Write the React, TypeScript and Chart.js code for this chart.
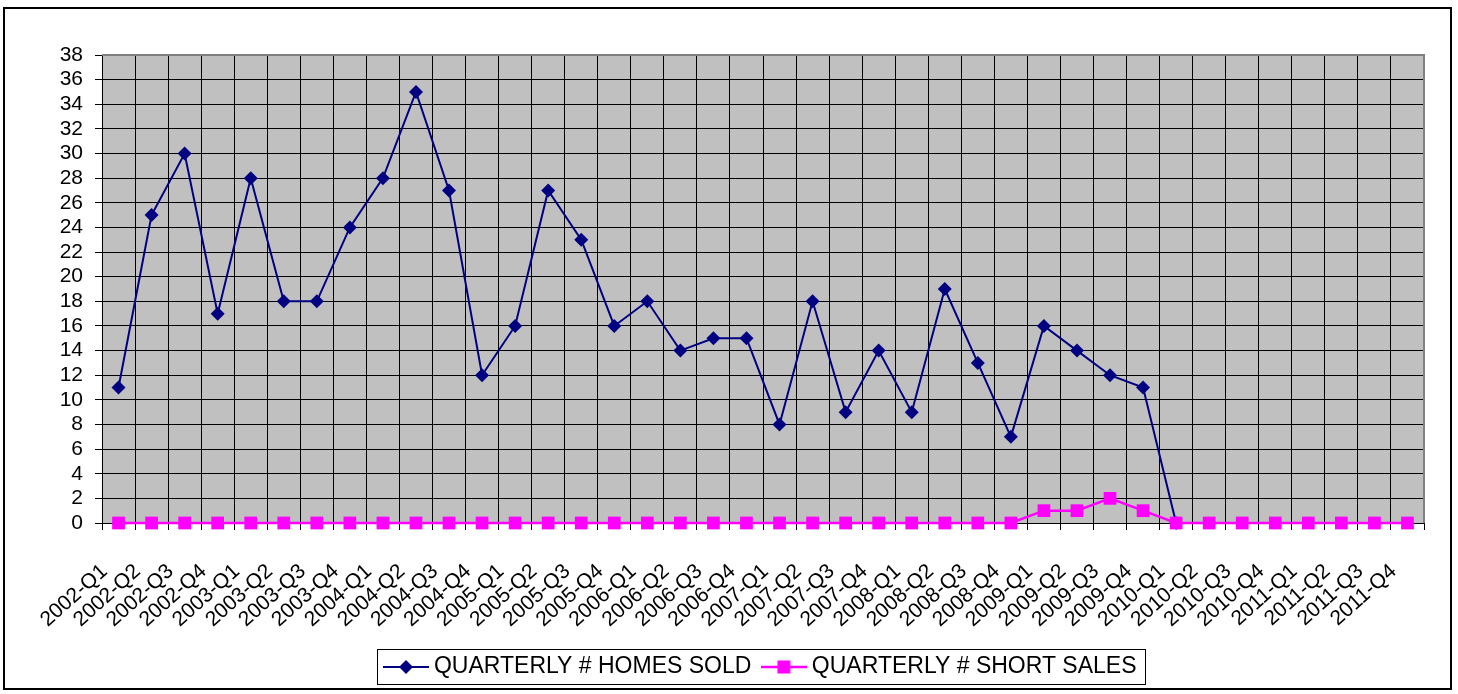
import React, { useEffect, useRef } from "react";
import { Chart, registerables } from "chart.js";

Chart.register(...registerables);

const quarters = [
  "2002-Q1", "2002-Q2", "2002-Q3", "2002-Q4",
  "2003-Q1", "2003-Q2", "2003-Q3", "2003-Q4",
  "2004-Q1", "2004-Q2", "2004-Q3", "2004-Q4",
  "2005-Q1", "2005-Q2", "2005-Q3", "2005-Q4",
  "2006-Q1", "2006-Q2", "2006-Q3", "2006-Q4",
  "2007-Q1", "2007-Q2", "2007-Q3", "2007-Q4",
  "2008-Q1", "2008-Q2", "2008-Q3", "2008-Q4",
  "2009-Q1", "2009-Q2", "2009-Q3", "2009-Q4",
  "2010-Q1", "2010-Q2", "2010-Q3", "2010-Q4",
  "2011-Q1", "2011-Q2", "2011-Q3", "2011-Q4",
];

const homesSold: (number | null)[] = [
  11, 25, 30, 17,
  28, 18, 18, 24,
  28, 35, 27, 12,
  16, 27, 23, 16,
  18, 14, 15, 15,
  8, 18, 9, 14,
  9, 19, 13, 7,
  16, 14, 12, 11,
  0, null, null, null,
  null, null, null, null,
];

const shortSales: number[] = [
  0, 0, 0, 0,
  0, 0, 0, 0,
  0, 0, 0, 0,
  0, 0, 0, 0,
  0, 0, 0, 0,
  0, 0, 0, 0,
  0, 0, 0, 0,
  1, 1, 2, 1,
  0, 0, 0, 0,
  0, 0, 0, 0,
];

const yMin = 0;
const yMax = 38;
const yStep = 2;

const NAVY = "#000080";
const MAGENTA = "#FF00FF";
const FONT = "'Liberation Sans', Arial, sans-serif";

function makeSymbol(color: string, kind: "diamond" | "square"): HTMLCanvasElement {
  const c = document.createElement("canvas");
  c.width = 46;
  c.height = 16;
  const g = c.getContext("2d")!;
  g.strokeStyle = color;
  g.lineWidth = kind === "diamond" ? 2 : 2.5;
  g.beginPath();
  g.moveTo(0, 8);
  g.lineTo(46, 8);
  g.stroke();
  g.fillStyle = color;
  if (kind === "diamond") {
    g.beginPath();
    g.moveTo(16, 8);
    g.lineTo(23, 1);
    g.lineTo(30, 8);
    g.lineTo(23, 15);
    g.closePath();
    g.fill();
  } else {
    g.fillRect(16.5, 1.5, 13, 13);
  }
  return c;
}

const framePlugin = {
  id: "frame",
  beforeDraw(chart: any) {
    const { ctx, chartArea, width, height } = chart;
    ctx.save();
    ctx.fillStyle = "#FFFFFF";
    ctx.fillRect(0, 0, width, height);
    ctx.fillStyle = "#C0C0C0";
    ctx.fillRect(chartArea.left, chartArea.top, chartArea.right - chartArea.left, chartArea.bottom - chartArea.top);
    ctx.restore();
  },
  beforeDatasetsDraw(chart: any) {
    const { ctx, chartArea } = chart;
    ctx.save();
    ctx.strokeStyle = "#808080";
    ctx.lineWidth = 2;
    ctx.beginPath();
    ctx.moveTo(chartArea.left, chartArea.top);
    ctx.lineTo(chartArea.right, chartArea.top);
    ctx.lineTo(chartArea.right, chartArea.bottom);
    ctx.stroke();
    ctx.restore();
  },
  afterDraw(chart: any) {
    const { ctx } = chart;
    ctx.save();
    ctx.strokeStyle = "#000000";
    ctx.lineWidth = 2;
    ctx.strokeRect(4, 8, 1447, 681);
    const boxes = chart.legend?.legendHitBoxes || [];
    if (boxes.length) {
      let l = Infinity, r = -Infinity, t = Infinity, b = -Infinity;
      for (const hb of boxes) {
        l = Math.min(l, hb.left);
        r = Math.max(r, hb.left + hb.width);
        t = Math.min(t, hb.top);
        b = Math.max(b, hb.top + hb.height);
      }
      ctx.strokeStyle = "#000000";
      ctx.lineWidth = 1;
      const x0 = Math.round(l - 12.5) + 0.5;
      const y0 = Math.round(t - 6.5) + 0.5;
      const x1 = Math.round(r + 8) + 0.5;
      const y1 = Math.round(b + 5.5) + 0.5;
      ctx.strokeRect(x0, y0, x1 - x0, y1 - y0);
    }
    ctx.restore();
  },
};

export default function App() {
  const ref = useRef<HTMLCanvasElement | null>(null);

  useEffect(() => {
    if (!ref.current) return;
    const diamond = makeSymbol(NAVY, "diamond");
    const square = makeSymbol(MAGENTA, "square");
    const chart = new Chart(ref.current, {
      type: "line",
      data: {
        labels: quarters,
        datasets: [
          {
            label: "QUARTERLY # HOMES SOLD",
            data: homesSold,
            borderColor: NAVY,
            backgroundColor: NAVY,
            borderWidth: 2,
            pointStyle: "rectRot",
            pointRadius: 7,
            pointBorderWidth: 0,
            pointBackgroundColor: NAVY,
            tension: 0,
            clip: false as any,
            order: 1,
            spanGaps: false,
          },
          {
            label: "QUARTERLY # SHORT SALES",
            data: shortSales,
            borderColor: MAGENTA,
            backgroundColor: MAGENTA,
            borderWidth: 2.5,
            pointStyle: "rect",
            pointRadius: 9,
            pointBorderWidth: 0,
            pointBackgroundColor: MAGENTA,
            tension: 0,
            clip: false as any,
            order: 0,
          },
        ],
      },
      options: {
        animation: false,
        responsive: false,
        maintainAspectRatio: false,
        layout: { padding: { left: 0, top: 55, right: 34, bottom: 5.5 } },
        plugins: {
          tooltip: { enabled: false },
          legend: {
            display: true,
            position: "bottom",
            fullSize: false,
            labels: {
              color: "#000000",
              font: { family: FONT, size: 23 },
              usePointStyle: true,
              pointStyleWidth: 33,
              padding: 16,
              sort: (a: any, b: any) => a.datasetIndex - b.datasetIndex,
              generateLabels: (chart: any) => {
                const items = Chart.defaults.plugins.legend.labels.generateLabels(chart);
                return items.map((it: any) => ({
                  ...it,
                  pointStyle: it.datasetIndex === 0 ? diamond : square,
                  lineWidth: 0,
                }));
              },
            },
          },
        },
        scales: {
          x: {
            type: "category",
            offset: true,
            grid: {
              offset: true,
              color: "#000000",
              lineWidth: 1,
              drawTicks: true,
              tickLength: 7,
              tickColor: "#000000",
            },
            border: { display: true, color: "#000000", width: 1 },
            ticks: {
              autoSkip: false,
              maxRotation: 42,
              minRotation: 42,
              color: "#000000",
              font: { family: FONT, size: 21 },
              padding: 29,
              labelOffset: -14,
            },
            afterFit: (scale: any) => {
              scale.height = 116.5;
            },
          },
          y: {
            min: yMin,
            max: yMax,
            grid: {
              color: "#000000",
              lineWidth: 1,
              drawTicks: true,
              tickLength: 7,
              tickColor: "#000000",
            },
            border: { display: true, color: "#000000", width: 1 },
            ticks: {
              stepSize: yStep,
              autoSkip: false,
              color: "#000000",
              font: { family: FONT, size: 21 },
              padding: 12,
            },
            afterFit: (scale: any) => {
              scale.width = 102;
            },
          },
        },
      },
      plugins: [framePlugin],
    } as any);
    return () => chart.destroy();
  }, []);

  return (
    <div style={{ position: "absolute", left: 0, top: 0, width: 1458, height: 694 }}>
      <canvas ref={ref} width={1458} height={694} style={{ display: "block", width: 1458, height: 694 }} />
    </div>
  );
}
